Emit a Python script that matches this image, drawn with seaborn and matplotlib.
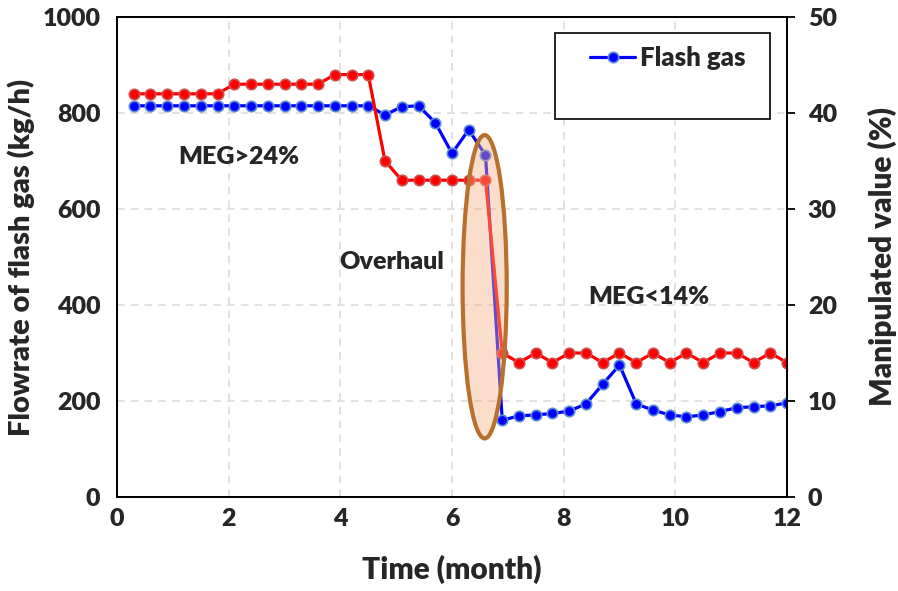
import numpy as np
import pandas as pd
import matplotlib
matplotlib.use("Agg")
import matplotlib.pyplot as plt
import seaborn as sns
from matplotlib.patches import Ellipse, Rectangle

# ---- data ----
time_month = [round(0.3 * k, 1) for k in range(1, 41)]
flash_gas = [815, 815, 815, 815, 815, 815, 815, 815, 815, 815,
             815, 815, 815, 815, 815, 796, 813, 815, 780, 716,
             765, 712, 160, 169, 171, 174, 179, 194, 235, 275,
             194, 181, 171, 167, 171, 178, 186, 188, 190, 196]
manipulated = [42, 42, 42, 42, 42, 42, 43, 43, 43, 43,
               43, 43, 44, 44, 44, 35, 33, 33, 33, 33,
               33, 33, 15, 14, 15, 14, 15, 15, 14, 15,
               14, 15, 14, 15, 14, 15, 15, 14, 15, 14]
x_ticks = [0, 2, 4, 6, 8, 10, 12]
y_ticks = [0, 200, 400, 600, 800, 1000]
y2_ticks = [0, 10, 20, 30, 40, 50]

df = pd.DataFrame({"time": time_month, "flash": flash_gas, "manip": manipulated})

sns.set_style("white")
FONT = ["Lato", "DejaVu Sans"]
plt.rcParams["font.family"] = FONT
W = "heavy"
plt.rcParams["font.weight"] = W

fig = plt.figure(figsize=(8.98, 5.91), dpi=100)
ax = fig.add_axes([117 / 898, 1 - 497 / 591, 670 / 898, 480 / 591])
ax2 = ax.twinx()

sns.lineplot(data=df, x="time", y="flash", ax=ax, color="#0000FF", marker="o",
             markersize=7.5, markerfacecolor="#0000FF", markeredgecolor="#5B8FD5",
             markeredgewidth=1.2, linewidth=2.3, label="Flash gas", legend=False)
sns.lineplot(data=df, x="time", y="manip", ax=ax2, color="#FF0000", marker="o",
             markersize=7.5, markerfacecolor="#FF0000", markeredgecolor="#D05050",
             markeredgewidth=1.2, linewidth=2.3, legend=False)

ax.set_xlim(0, 12)
ax.set_ylim(0, 1000)
ax2.set_ylim(0, 50)
ax.set_xticks(x_ticks)
ax.set_xticks(np.arange(0, 12.01, 0.4), minor=True)
ax.set_yticks(y_ticks)
ax2.set_yticks(y2_ticks)

ax.grid(True, which="major", axis="both", color="#D9D9D9", linestyle=(0, (5, 4)), linewidth=1.1)
ax.set_axisbelow(True)

tick_fs = 18
ax.tick_params(axis="x", which="major", direction="in", length=7, width=1.3,
               labelsize=tick_fs, pad=8, color="black")
ax.tick_params(axis="x", which="minor", direction="out", length=5, width=1.3, color="black")
ax.tick_params(axis="y", which="both", length=0, labelsize=tick_fs, pad=12)
ax2.tick_params(axis="y", direction="out", length=6, width=1.3, labelsize=tick_fs, pad=9, color="black")

for a in (ax, ax2):
    for s in a.spines.values():
        s.set_color("black")
        s.set_linewidth(1.3)
        s.set_visible(True)
    for lab in a.get_xticklabels() + a.get_yticklabels():
        lab.set_fontweight(W)

lab_fs = 21.5
ax.set_xlabel("Time (month)", fontsize=lab_fs, fontweight=W, labelpad=18)
ax.set_ylabel("Flowrate of flash gas (kg/h)", fontsize=21, fontweight=W, labelpad=5)
ax2.set_ylabel("Manipulated value (%)", fontsize=lab_fs, fontweight=W, labelpad=22)

# annotations
ann_fs = 18
ax.text(2.19, 709, "MEG>24%", fontsize=ann_fs, fontweight=W, ha="center", va="center")
ax.text(4.92, 490, "Overhaul", fontsize=ann_fs, fontweight=W, ha="center", va="center")
ax.text(9.52, 417, "MEG<14%", fontsize=ann_fs, fontweight=W, ha="center", va="center")

# highlight ellipse (on top of both lines)
ell = Ellipse((6.585, 438 / 20), width=0.79, height=632 / 20,
              facecolor=(244 / 255, 177 / 255, 131 / 255, 0.42),
              edgecolor="#B8702F", linewidth=3, zorder=10)
ax2.add_patch(ell)

# legend box
rect = Rectangle((0.654, 0.7875), 0.3206, 0.1792, transform=ax2.transAxes,
                 facecolor="white", edgecolor="black", linewidth=1.2, zorder=11)
ax2.add_patch(rect)
h, l = ax.get_legend_handles_labels()
leg = ax2.legend(h, l, loc="center left", bbox_to_anchor=(0.706, 0.9146),
                 frameon=False, borderpad=0, borderaxespad=0, handlelength=1.75,
                 handletextpad=0.2, prop={"size": 18.5, "weight": W})
leg.set_zorder(12)

fig.savefig("out.png", dpi=100)
